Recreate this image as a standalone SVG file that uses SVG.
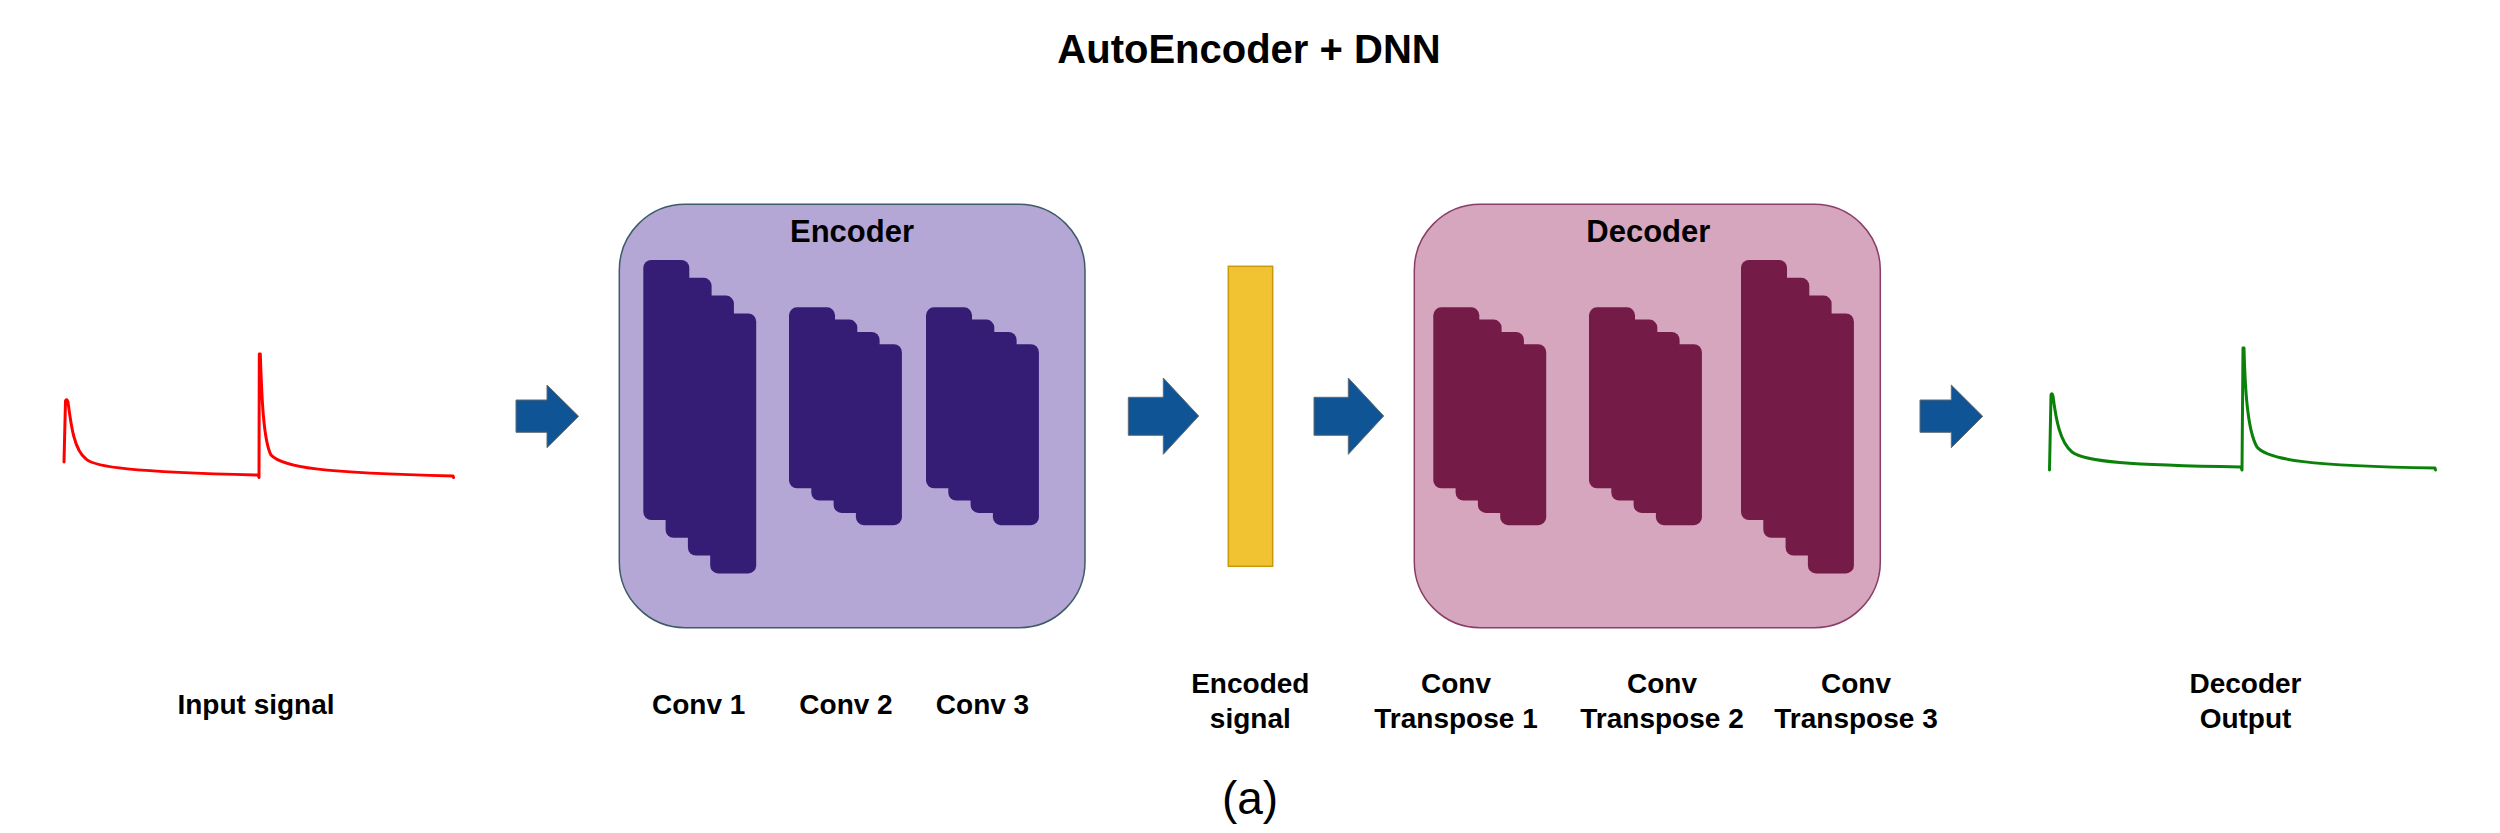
<svg xmlns="http://www.w3.org/2000/svg" width="2500" height="833" viewBox="0 0 2500 833">
<style>
  text { font-family: "Liberation Sans", Arial, sans-serif; fill: #000; text-anchor: middle; }
  .title { font-size: 40px; font-weight: bold; }
  .hdr { font-size: 31px; font-weight: bold; }
  .lbl { font-size: 28px; font-weight: bold; }
  .cap { font-size: 46px; }
  .enc { fill: #351c75; }
  .dec { fill: #741b47; }
  .arrow { fill: #0f5494; stroke: #5f6b73; stroke-width: 1; }
  .sig { fill: none; stroke-width: 3; stroke-linejoin: round; stroke-linecap: round; }
</style>
<defs>
  <g id="stackTall">
    <rect x="0" y="0" width="46" height="260" rx="8"/>
    <rect x="22.3" y="17.8" width="46" height="260" rx="8"/>
    <rect x="44.6" y="35.6" width="46" height="260" rx="8"/>
    <rect x="66.9" y="53.4" width="46" height="260" rx="8"/>
  </g>
  <g id="stackShort">
    <rect x="0" y="0" width="46" height="181" rx="8"/>
    <rect x="22.3" y="12.3" width="46" height="181" rx="8"/>
    <rect x="44.6" y="24.6" width="46" height="181" rx="8"/>
    <rect x="66.9" y="36.9" width="46" height="181" rx="8"/>
  </g>
</defs>
<rect width="2500" height="833" fill="#ffffff"/>

<text class="title" x="1249" y="63">AutoEncoder + DNN</text>

<g id="input-signal">
  <path class="sig" stroke="#ff0000" d="M64,462 L65.5,401 Q66.5,398 68,402 C71,425 74,450 86,459 C95,467 130,472 258,475 L259,477.5 L259.3,354 L260.3,354 C261.5,390 263,440 271,455 C282,467 320,473 453,476 L453.5,477.5"/>
  <text class="lbl" x="256" y="714">Input signal</text>
</g>

<g id="encoder">
  <rect x="619.3" y="204.3" width="465.7" height="423.4" rx="66" fill="#b4a7d6" stroke="#3f5a68" stroke-width="1.5"/>
  <text class="hdr" x="852" y="242">Encoder</text>
  <g id="conv1">
    <use href="#stackTall" class="enc" x="643.3" y="260"/>
    <text class="lbl" x="698.7" y="714">Conv 1</text>
  </g>
  <g id="conv2">
    <use href="#stackShort" class="enc" x="789" y="307.3"/>
    <text class="lbl" x="846" y="714">Conv 2</text>
  </g>
  <g id="conv3">
    <use href="#stackShort" class="enc" x="926" y="307.3"/>
    <text class="lbl" x="982.5" y="714">Conv 3</text>
  </g>
</g>

<g id="encoded-signal">
  <rect x="1228.3" y="266.3" width="44.4" height="300" fill="#f1c232" stroke="#c99a0a" stroke-width="1.5"/>
  <text class="lbl" x="1250.3" y="693.3">Encoded</text>
  <text class="lbl" x="1250.3" y="728.3">signal</text>
</g>

<g id="decoder">
  <rect x="1414.3" y="204.3" width="466" height="423.4" rx="66" fill="#d5a6bd" stroke="#8a3d66" stroke-width="1.5"/>
  <text class="hdr" x="1648.3" y="242">Decoder</text>
  <g id="convt1">
    <use href="#stackShort" class="dec" x="1433.3" y="307.3"/>
    <text class="lbl" x="1456" y="693.3">Conv</text>
    <text class="lbl" x="1456" y="728.3">Transpose 1</text>
  </g>
  <g id="convt2">
    <use href="#stackShort" class="dec" x="1589" y="307.3"/>
    <text class="lbl" x="1662" y="693.3">Conv</text>
    <text class="lbl" x="1662" y="728.3">Transpose 2</text>
  </g>
  <g id="convt3">
    <use href="#stackTall" class="dec" x="1741" y="260"/>
    <text class="lbl" x="1856" y="693.3">Conv</text>
    <text class="lbl" x="1856" y="728.3">Transpose 3</text>
  </g>
</g>

<g id="decoder-output">
  <path class="sig" stroke="#0a820a" d="M2049.5,470 L2051,395 Q2052,392 2053,396 C2056,420 2060,442 2072,452 C2085,462 2130,465 2241,467 L2242,470 L2243,348 L2244,348 C2245,385 2247,430 2257,447 C2268,460 2310,466 2435,468 L2435.5,470"/>
  <text class="lbl" x="2245.5" y="693.3">Decoder</text>
  <text class="lbl" x="2245.5" y="728.3">Output</text>
</g>

<g id="connectors">
  <polygon class="arrow" points="516,400 547,400 547,385 578.6,416.3 547,447.7 547,432.3 516,432.3"/>
  <polygon class="arrow" points="1128.3,397.3 1163.3,397.3 1163.3,378 1198.7,416 1163.3,454.3 1163.3,435.3 1128.3,435.3"/>
  <polygon class="arrow" points="1314,397.3 1348.3,397.3 1348.3,378 1383.7,416 1348.3,454.3 1348.3,435.3 1314,435.3"/>
  <polygon class="arrow" points="1920,400 1951.3,400 1951.3,385 1982.7,416.3 1951.3,447.7 1951.3,432.3 1920,432.3"/>
</g>

<text class="cap" x="1250" y="814">(a)</text>
</svg>
